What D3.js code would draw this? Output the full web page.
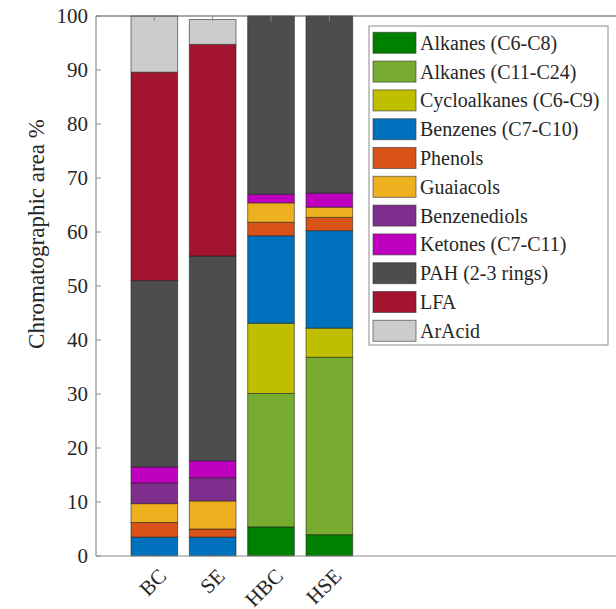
<!DOCTYPE html>
<html>
<head>
<meta charset="utf-8">
<script src="https://cdn.jsdelivr.net/npm/d3@7"></script>
<style>
  body { margin: 0; background: #fff; }
</style>
</head>
<body>
<svg class="chart" width="616" height="609"></svg>
<script>
const samples = ["BC", "SE", "HBC", "HSE"]

const groups = [
  "Alkanes (C6-C8)", "Alkanes (C11-C24)", "Cycloalkanes (C6-C9)", "Benzenes (C7-C10)",
  "Phenols", "Guaiacols", "Benzenediols", "Ketones (C7-C11)",
  "PAH (2-3 rings)", "LFA", "ArAcid"
]

const groupColors = [
  "#008000", "#77ac30", "#bfbf00", "#0072bd",
  "#d95319", "#edb120", "#7e2f8e", "#bf00bf",
  "#4d4d4d", "#a2142f", "#cccccc"
]

// one row per sample, same order as groups
const bcValues = [0, 0, 0, 3.5, 2.7, 3.5, 3.8, 3.0, 34.5, 38.6, 10.4]
const seValues = [0, 0, 0, 3.5, 1.5, 5.2, 4.3, 3.15, 37.9, 39.2, 4.6]
const hbcValues = [5.4, 24.7, 13.0, 16.2, 2.5, 3.6, 0, 1.6, 33.0, 0, 0]
const hseValues = [3.95, 32.85, 5.4, 18.05, 2.45, 1.9, 0, 2.6, 32.8, 0, 0]

const yTicks = [0, 10, 20, 30, 40, 50, 60, 70, 80, 90, 100]

const rows = [bcValues, seValues, hbcValues, hseValues].map((vals, i) => {
  const row = { sample: samples[i] }
  groups.forEach((g, j) => { row[g] = vals[j] })
  return row
})

const serif = "'Liberation Serif', 'DejaVu Serif', 'Times New Roman', serif"

const svg = d3.select("svg.chart")
  .attr("font-family", serif)

const x = d3.scaleLinear()
  .domain([0, 9])
  .range([96, 621])

const y = d3.scaleLinear()
  .domain([0, 100])
  .range([556, 16])

const step = x(1) - x(0)
const barW = step * 0.8

const stacked = d3.stack().keys(groups)(rows)

svg.append("g")
  .selectAll("g")
  .data(stacked)
  .enter()
  .append("g")
  .attr("fill", (d, i) => { return groupColors[i] })
  .selectAll("rect")
  .data(d => d)
  .enter()
  .filter(d => d[1] - d[0] > 0)
  .append("rect")
  .attr("x", d => x(samples.indexOf(d.data.sample) + 1) - barW / 2)
  .attr("y", d => y(d[1]))
  .attr("width", barW)
  .attr("height", d => y(d[0]) - y(d[1]))
  .attr("stroke", "#1a1a1a")
  .attr("stroke-opacity", 0.55)
  .attr("stroke-width", 1)

// box lines
const axisColor = "#8c8c8c"
svg.append("line")
  .attr("x1", x(0)).attr("x2", 616).attr("y1", y(100)).attr("y2", y(100))
  .attr("stroke", "#555").attr("stroke-width", 1.2)
svg.append("line")
  .attr("x1", x(0)).attr("x2", 616).attr("y1", y(0)).attr("y2", y(0))
  .attr("stroke", axisColor).attr("stroke-width", 1.2)
svg.append("line")
  .attr("x1", x(0)).attr("x2", x(0)).attr("y1", y(0)).attr("y2", y(100))
  .attr("stroke", axisColor).attr("stroke-width", 1.2)

// y ticks, inward on both sides
const yt = svg.append("g")
  .selectAll("g")
  .data(yTicks)
  .enter()
  .append("g")
  .attr("transform", d => "translate(0," + y(d) + ")")

yt.append("line")
  .attr("x1", x(0)).attr("x2", x(0) + 5)
  .attr("stroke", axisColor)
yt.filter(d => d > 0 && d < 100)
  .append("line")
  .attr("x1", x(9) - 5).attr("x2", x(9))
  .attr("stroke", "#666")

yt.append("text")
  .attr("x", x(0) - 8)
  .attr("dy", "0.34em")
  .attr("text-anchor", "end")
  .attr("fill", "#262626")
  .attr("font-size", 21)
  .text(d => d)

// x ticks, inward top and bottom
const xt = svg.append("g")
  .selectAll("g")
  .data(samples)
  .enter()
  .append("g")
  .attr("transform", (d, i) => { return "translate(" + x(i + 1) + ",0)" })

xt.append("line")
  .attr("y1", y(0)).attr("y2", y(0) - 5)
  .attr("stroke", "#555").attr("stroke-opacity", 0.6)
xt.append("line")
  .attr("y1", y(100)).attr("y2", y(100) + 5)
  .attr("stroke", "#888")

xt.append("text")
  .attr("transform", "translate(3," + (y(0) + 11) + ") rotate(-45)")
  .attr("text-anchor", "end")
  .attr("dy", "0.7em")
  .attr("fill", "#262626")
  .attr("font-size", 21)
  .text(d => d)

svg.append("text")
  .attr("transform", "translate(44,234) rotate(-90)")
  .attr("text-anchor", "middle")
  .attr("fill", "#262626")
  .attr("font-size", 23)
  .text("Chromatographic area %")

// legend
const legend = svg.append("g")
  .attr("transform", "translate(369,26)")

legend.append("rect")
  .attr("width", 239)
  .attr("height", 319)
  .attr("fill", "#fff")
  .attr("stroke", "#8c8c8c")

const items = legend.selectAll("g")
  .data(groups)
  .enter()
  .append("g")
  .attr("transform", (d, i) => { return "translate(4," + (6.3 + i * 28.8) + ")" })

items.append("rect")
  .attr("width", 43)
  .attr("height", 21)
  .attr("fill", (d, i) => { return groupColors[i] })
  .attr("stroke", "#333")
  .attr("stroke-opacity", 0.6)

items.append("text")
  .attr("x", 47)
  .attr("y", 10.5)
  .attr("dy", "0.35em")
  .attr("fill", "#262626")
  .attr("font-size", 20)
  .text(d => d)
</script>
</body>
</html>
